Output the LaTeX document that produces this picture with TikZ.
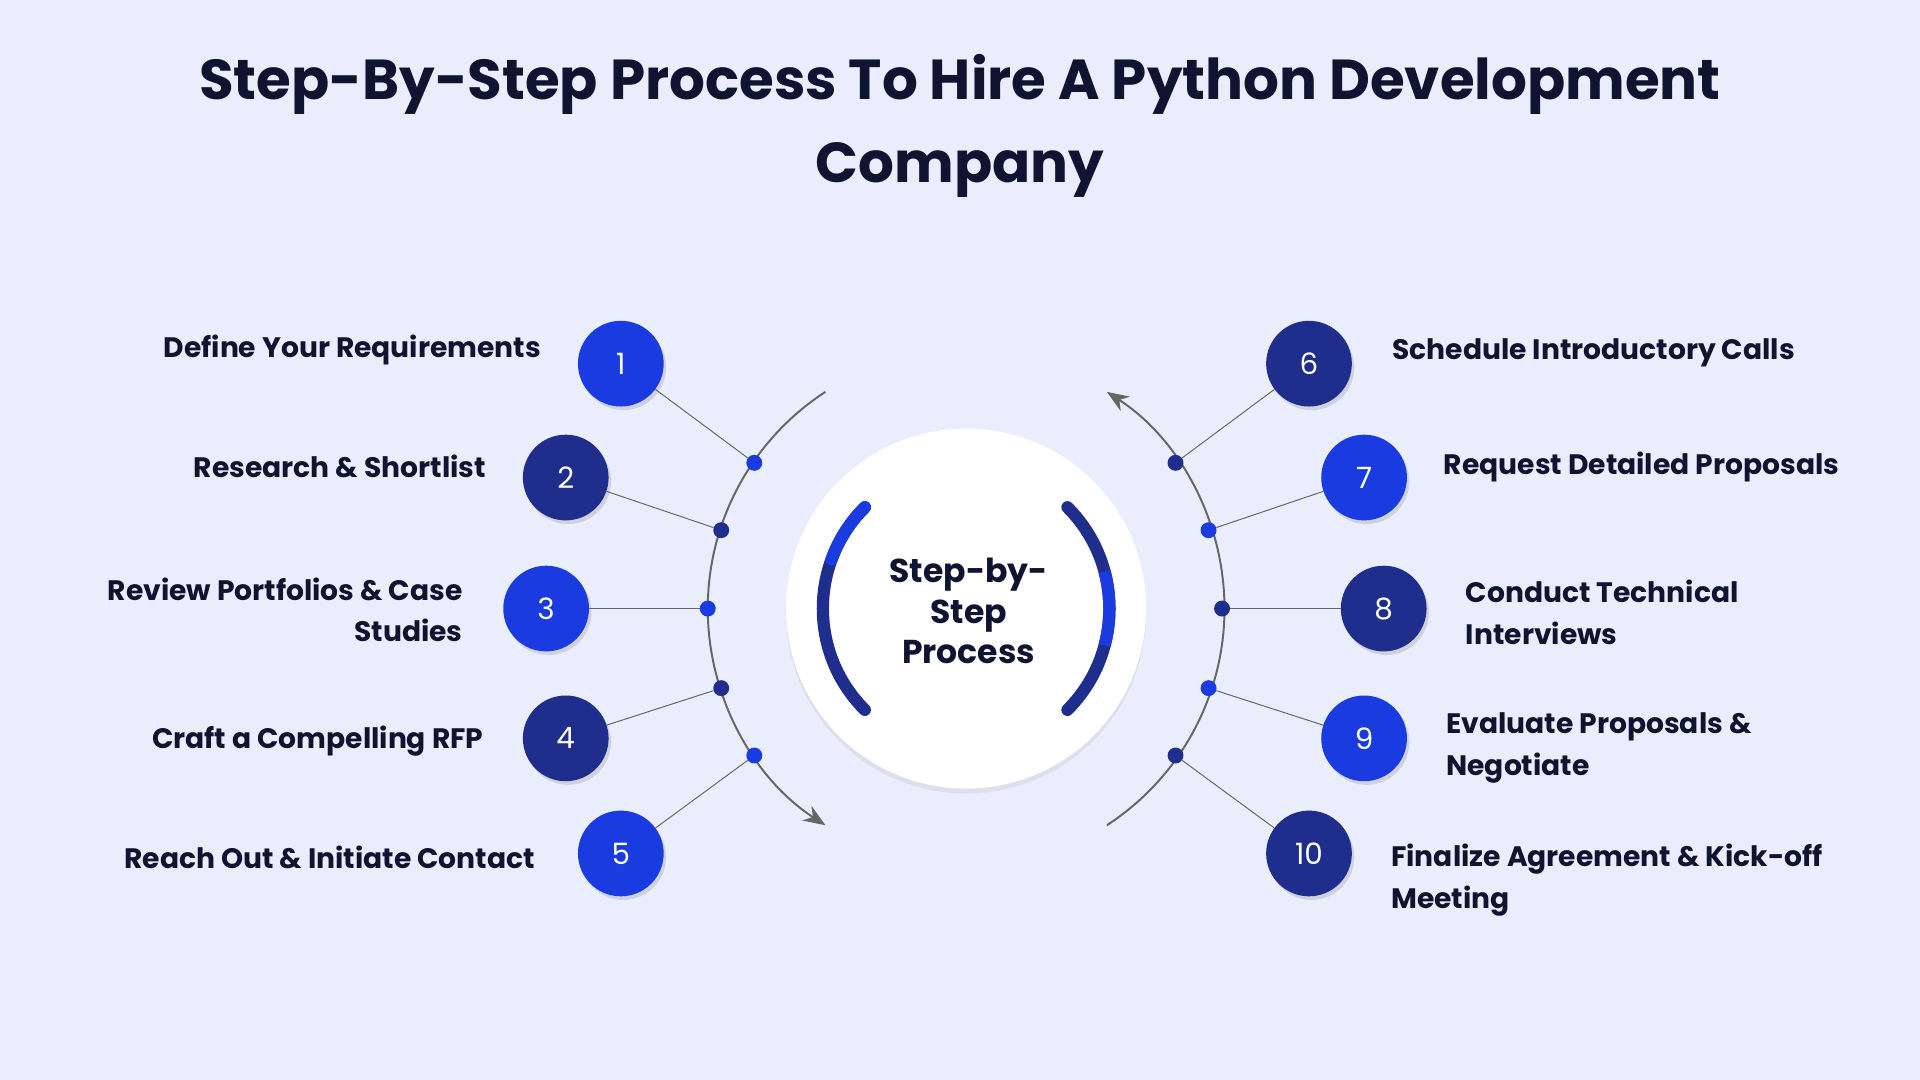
\documentclass[tikz,border=0pt]{standalone}
\usepackage{fontspec}
\setmainfont{Poppins}
\usetikzlibrary{arrows.meta,shadows,calc}
\definecolor{bg}{HTML}{EAEEFC}
\definecolor{bblue}{HTML}{1A3BE0}
\definecolor{dblue}{HTML}{1F2D8C}
\definecolor{ink}{HTML}{0F1530}
\tikzset{
 num/.style={circle,minimum size=70pt,inner sep=0pt,text=white,font=\fontsize{24}{24}\selectfont,drop shadow={shadow xshift=2pt,shadow yshift=-3pt,opacity=0.25}},
 dot/.style={circle,minimum size=13pt,inner sep=0pt},
 lbl/.style={text=ink,font=\fontsize{23}{34}\selectfont\bfseries,inner sep=0pt},
 conn/.style={draw=gray!80!black,line width=0.8pt},
 arcl/.style={draw=gray!80!black,line width=1.6pt},
}
\begin{document}
\begin{tikzpicture}[x=1pt,y=1pt]
\fill[bg] (0,0) rectangle (1568,882);
\useasboundingbox (0,0) rectangle (1568,882);
\node[font=\fontsize{46}{68}\selectfont\bfseries,text=ink,align=center] (title) at (784,779) {Step-By-Step Process To Hire A Python Development\\Company};
\coordinate (c) at (789,385);
% big arcs
\draw[arcl,-{Stealth[length=18pt,width=14pt]}] ($(c)+(123:211)$) arc (123:237:211);
\draw[arcl,-{Stealth[length=18pt,width=14pt]}] ($(c)+(-57:211)$) arc (-57:57:211);
% center
\node[circle,fill=white,minimum size=294pt,drop shadow={shadow xshift=0pt,shadow yshift=-4pt,opacity=0.12}] (center) at (c) {};
\draw[dblue,line width=10pt,line cap=round] ($(c)+(135:117)$) arc (135:225:117);
\draw[bblue,line width=10pt,line cap=round] ($(c)+(135:117)$) arc (135:160:117);
\draw[dblue,line width=10pt,line cap=round] ($(c)+(-45:117)$) arc (-45:45:117);
\draw[bblue,line width=10pt] ($(c)+(-15:117)$) arc (-15:15:117);
\node[text=ink,align=center,font=\fontsize{27}{33}\selectfont\bfseries] (ctext) at (791,383) {Step-by-\\Step\\Process};
% dots
\node[dot,fill=bblue] (d1) at (616,504) {};
\node[dot,fill=dblue] (d2) at (589,449) {};
\node[dot,fill=bblue] (d3) at (578,385) {};
\node[dot,fill=dblue] (d4) at (589,320) {};
\node[dot,fill=bblue] (d5) at (616,265) {};
\node[dot,fill=dblue] (d6) at (960,504) {};
\node[dot,fill=bblue] (d7) at (987,449) {};
\node[dot,fill=dblue] (d8) at (998,385) {};
\node[dot,fill=bblue] (d9) at (987,320) {};
\node[dot,fill=dblue] (d10) at (960,265) {};
% numbers
\node[num,fill=bblue] (n1) at (507,585) {1};
\node[num,fill=dblue] (n2) at (462,492) {2};
\node[num,fill=bblue] (n3) at (446,385) {3};
\node[num,fill=dblue] (n4) at (462,279) {4};
\node[num,fill=bblue] (n5) at (507,185) {5};
\node[num,fill=dblue] (n6) at (1069,585) {6};
\node[num,fill=bblue] (n7) at (1114,492) {7};
\node[num,fill=dblue] (n8) at (1130,385) {8};
\node[num,fill=bblue] (n9) at (1114,279) {9};
\node[num,fill=dblue] (n10) at (1069,185) {10};
\foreach \i in {1,...,10} {\draw[conn] (n\i) -- (d\i);}
% labels
\node[lbl,anchor=east] (l1) at (442,596) {Define Your Requirements};
\node[lbl,anchor=east] (l2) at (397,501) {Research \& Shortlist};
\node[lbl,anchor=east,align=right] (l3) at (378,384) {Review Portfolios \& Case\\Studies};
\node[lbl,anchor=east] (l4) at (395,277) {Craft a Compelling RFP};
\node[lbl,anchor=east] (l5) at (437,182) {Reach Out \& Initiate Contact};
\node[lbl,anchor=west] (l6) at (1137,594) {Schedule Introductory Calls};
\node[lbl,anchor=west] (l7) at (1179,501) {Request Detailed Proposals};
\node[lbl,anchor=west,align=left] (l8) at (1197,382) {Conduct Technical\\Interviews};
\node[lbl,anchor=west,align=left] (l9) at (1181,271) {Evaluate Proposals \&\\Negotiate};
\node[lbl,anchor=west,align=left] (l10) at (1136,163) {Finalize Agreement \& Kick-off\\Meeting};
\end{tikzpicture}
\end{document}
